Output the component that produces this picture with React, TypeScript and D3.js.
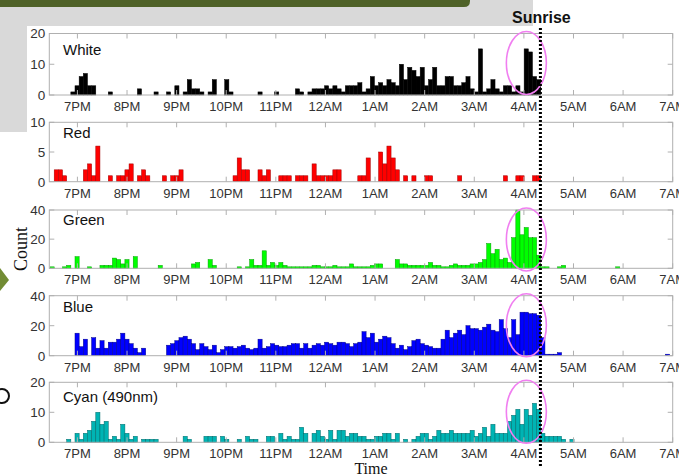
import React from 'react';
import * as d3 from 'd3';

// hour labels, 7PM .. 7AM
const HOUR_LABELS = ['7PM', '8PM', '9PM', '10PM', '11PM', '12AM', '1AM', '2AM', '3AM', '4AM', '5AM', '6AM', '7AM'];

// counts per 5-minute bin, bin 0 starts ~18:27
const WHITE = [
    0, 0, 0, 0, 0, 1, 3, 6, 7, 3,
    3, 0, 0, 0, 1, 0, 0, 0, 0, 0,
    0, 2, 0, 0, 0, 1, 0, 0, 1, 0,
    3, 0, 1, 5, 2, 2, 1, 0, 1, 5,
    0, 0, 5, 1, 0, 0, 0, 0, 0, 0,
    1, 0, 0, 0, 1, 0, 0, 0, 0, 2,
    1, 0, 1, 2, 2, 2, 3, 2, 3, 2,
    1, 3, 3, 3, 4, 1, 2, 6, 3, 4,
    3, 5, 4, 3, 10, 5, 9, 8, 6, 9,
    3, 5, 9, 3, 3, 6, 6, 3, 3, 4,
    6, 2, 1, 15, 1, 2, 5, 2, 1, 3,
    3, 1, 3, 1, 15, 14, 6, 5,
];
const RED = [
    0, 2, 2, 1, 0, 0, 0, 0, 2, 3,
    1, 6, 0, 0, 1, 0, 1, 1, 2, 3,
    0, 1, 2, 1, 0, 0, 0, 1, 0, 1,
    1, 2, 0, 0, 0, 0, 0, 0, 0, 0,
    0, 0, 0, 0, 1, 4, 2, 2, 0, 0,
    2, 1, 2, 0, 0, 1, 1, 1, 0, 1,
    1, 1, 0, 3, 1, 1, 1, 1, 2, 2,
    0, 0, 0, 0, 1, 1, 4, 0, 0, 5,
    3, 6, 4, 2, 0, 1, 0, 1, 0, 0,
    1, 1, 0, 0, 0, 0, 0, 0, 1, 0,
    0, 0, 0, 0, 0, 0, 0, 0, 0, 1,
    0, 0, 1, 1, 0, 0, 1, 1,
];
const GREEN = [
    1, 0, 0, 1, 2, 0, 8, 0, 0, 1,
    0, 0, 2, 2, 2, 7, 6, 3, 6, 0,
    8, 0, 0, 0, 0, 0, 2, 0, 0, 0,
    0, 0, 0, 0, 3, 4, 0, 0, 6, 2,
    0, 0, 0, 0, 0, 1, 0, 1, 6, 2,
    2, 12, 2, 4, 2, 4, 2, 1, 1, 1,
    1, 1, 1, 2, 2, 1, 1, 1, 2, 1,
    1, 1, 3, 1, 1, 1, 1, 2, 3, 3,
    0, 0, 0, 6, 3, 3, 2, 2, 2, 2,
    2, 4, 2, 2, 1, 1, 2, 3, 2, 2,
    2, 3, 3, 4, 6, 17, 10, 13, 6, 7,
    4, 21, 40, 23, 28, 21, 21, 9, 1, 1,
    0, 0, 1, 2, 0, 0, 0, 0, 0, 0,
    0, 0, 0, 0, 0, 0, 1,
];
const BLUE = [
    0, 0, 0, 0, 0, 0, 15, 6, 11, 0,
    12, 5, 10, 5, 9, 9, 11, 15, 11, 8,
    5, 2, 5, 0, 0, 0, 0, 0, 7, 8,
    10, 12, 13, 11, 8, 4, 8, 6, 4, 7,
    2, 4, 6, 6, 5, 6, 7, 5, 4, 5,
    11, 5, 6, 8, 7, 6, 6, 7, 8, 8,
    5, 8, 5, 7, 8, 7, 9, 8, 7, 9,
    9, 8, 6, 8, 9, 16, 12, 15, 9, 11,
    13, 12, 8, 5, 7, 4, 6, 10, 11, 8,
    7, 6, 5, 5, 11, 17, 12, 15, 17, 14,
    20, 18, 18, 17, 19, 21, 17, 16, 24, 18,
    12, 24, 14, 29, 29, 28, 28, 27, 12, 1,
    1, 1, 2, 0, 0, 0, 0, 0, 0, 0,
    0, 0, 0, 0, 0, 0, 0, 0, 0, 0,
    0, 0, 0, 0, 0, 0, 0, 0, 1,
];
const CYAN = [
    0, 0, 0, 0, 1, 0, 3, 1, 3, 4,
    7, 10, 6, 7, 1, 2, 1, 6, 3, 1,
    2, 0, 1, 1, 1, 1, 0, 0, 0, 0,
    0, 0, 2, 1, 0, 0, 0, 2, 2, 2,
    0, 2, 1, 0, 0, 1, 0, 2, 1, 1,
    0, 0, 2, 2, 0, 3, 1, 2, 1, 1,
    5, 3, 0, 3, 4, 2, 1, 4, 1, 4,
    4, 2, 3, 3, 2, 2, 1, 1, 2, 2,
    3, 3, 1, 3, 0, 1, 0, 1, 2, 3,
    3, 1, 2, 4, 3, 3, 4, 3, 3, 3,
    3, 4, 2, 3, 5, 2, 6, 3, 3, 3,
    7, 9, 11, 6, 11, 9, 13, 11, 3, 2,
    2, 2, 2, 1, 0, 1,
];

const PANEL_NAMES = ['White', 'Red', 'Green', 'Blue', 'Cyan (490nm)'];
const SERIES = [WHITE, RED, GREEN, BLUE, CYAN];
const Y_TICKS = [[0, 10, 20], [0, 5, 10], [0, 20, 40], [0, 20, 40], [0, 10, 20]];
const CIRCLED = [true, false, true, true, true];

// minutes after 7PM
const BIN_START = -33.1;
const BIN_WIDTH = 5.03;
const SUNRISE = 560;
const CIRCLE_AT = 543;

const FILLS = ['#000000', '#ff0000', '#00ff00', '#0000ff', '#00b4b4'];
const EDGES = ['#000000', '#a00000', '#00a000', '#00008a', '#006a6a'];

const PANELS = [
    { top: 33.5, bottom: 95, labelDy: 21 },
    { top: 122.3, bottom: 181.7, labelDy: 16 },
    { top: 210, bottom: 268.3, labelDy: 15 },
    { top: 295.7, bottom: 355.7, labelDy: 16 },
    { top: 382.3, bottom: 442.3, labelDy: 20 },
];

const FRAME = '#b0b0b0';
const SANS = '"Liberation Sans", Arial, sans-serif';
const SERIF = '"Liberation Serif", "Times New Roman", serif';

const App: React.FC = () => {
    const W = 679, H = 475;
    const x = d3.scaleLinear().domain([-34, 720]).range([49.3, 672.7]);
    const hours = d3.range(0, 721, 60);

    return (
        <svg width={W} height={H} style={{ position: 'absolute', left: 0, top: 0, background: '#fff' }}>
            {/* slide remnants */}
            <path d="M0,0 H533 V26 H27 V132 H0 Z" fill="#d9d9d9" />
            <path d="M0,0 H470 V1 Q470,7 464,7 H0 Z" fill="#4f6228" />
            <path d="M0,268 L9,280 L0,291 Z" fill="#728c34" />
            <circle cx={2} cy={396} r={7} fill="none" stroke="#111" strokeWidth={2} />

            {PANELS.map((p, k) => {
                const ticks = Y_TICKS[k];
                const y = d3.scaleLinear().domain([0, ticks[ticks.length - 1]]).range([p.bottom, p.top]);
                const data = SERIES[k];
                const [x0, x1] = x.range();
                return (
                    <g key={k}>
                        <rect x={x0} y={p.top} width={x1 - x0} height={p.bottom - p.top} fill="#fff" />
                        {data.map((v, j) => {
                            if (!v) return null;
                            const a = x(BIN_START + j * BIN_WIDTH);
                            const b = x(BIN_START + (j + 1) * BIN_WIDTH);
                            return (
                                <rect key={j} x={a} y={y(v)} width={b - a} height={p.bottom - y(v)}
                                    fill={FILLS[k]} stroke={EDGES[k]} strokeWidth={0.5} />
                            );
                        })}
                        <rect x={x0} y={p.top} width={x1 - x0} height={p.bottom - p.top}
                            fill="none" stroke={FRAME} strokeWidth={1} />
                        {hours.map(h => (
                            <g key={h} stroke={FRAME}>
                                <line x1={x(h)} x2={x(h)} y1={p.top} y2={p.top + 5} />
                                <line x1={x(h)} x2={x(h)} y1={p.bottom} y2={p.bottom - 5} />
                            </g>
                        ))}
                        {ticks.map(t => (
                            <g key={t}>
                                <line x1={x0} x2={x0 + 5} y1={y(t)} y2={y(t)} stroke={FRAME} />
                                <line x1={x1} x2={x1 - 5} y1={y(t)} y2={y(t)} stroke={FRAME} />
                                <text x={x0 - 4} y={y(t)} dy="0.36em" textAnchor="end"
                                    fontFamily={SANS} fontSize={13.5} fill="#333">{t}</text>
                            </g>
                        ))}
                        {hours.map((h, i) => (
                            <text key={h} x={x(h)} y={p.bottom + 16} textAnchor="middle"
                                fontFamily={SANS} fontSize={13} fill="#333">{HOUR_LABELS[i]}</text>
                        ))}
                        <text x={63} y={p.top + p.labelDy} fontFamily={SANS} fontSize={15} fill="#111">
                            {PANEL_NAMES[k]}
                        </text>
                        {CIRCLED[k] && (
                            <ellipse cx={x(CIRCLE_AT)} cy={p.top + 29.5} rx={20} ry={31.5}
                                fill="none" stroke="#f07ef0" strokeWidth={1.6} />
                        )}
                    </g>
                );
            })}

            <line x1={x(SUNRISE)} x2={x(SUNRISE)} y1={28} y2={466}
                stroke="#000" strokeWidth={3} strokeDasharray="2,2" />
            <text x={512} y={23} fontFamily={SANS} fontWeight="bold" fontSize={16} fill="#111">Sunrise</text>

            <text transform="translate(27,249) rotate(-90)" textAnchor="middle"
                fontFamily={SERIF} fontSize={18} fill="#111">Count</text>
            <text x={371} y={474} textAnchor="middle" fontFamily={SERIF} fontSize={16} fill="#111">Time</text>
        </svg>
    );
};

export default App;
